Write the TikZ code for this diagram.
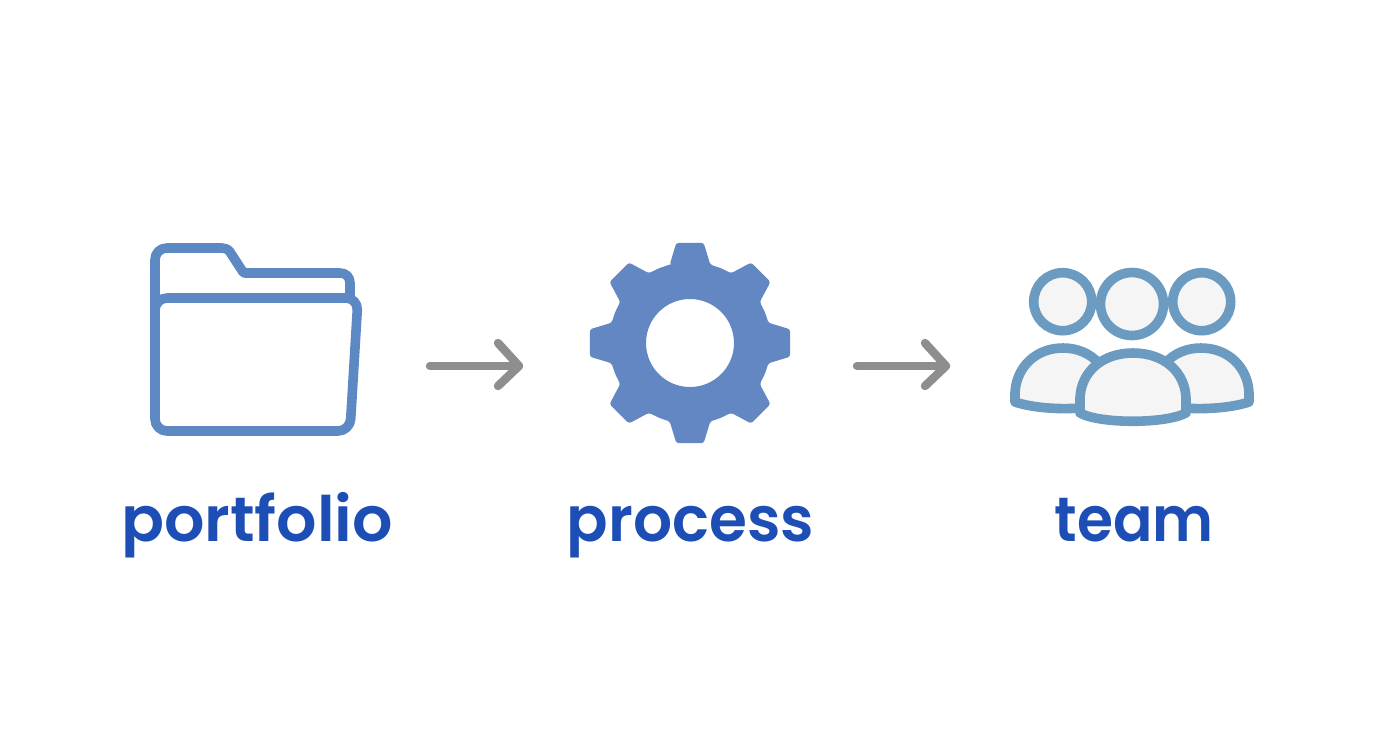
\documentclass[tikz,border=0pt]{standalone}
\usepackage{fontspec}
\usetikzlibrary{calc}
\setmainfont{Poppins}
\newfontfamily\labelfont{Poppins SemiBold}
\definecolor{folderblue}{HTML}{5C88C3}
\definecolor{gearblue}{HTML}{6387C3}
\definecolor{teamblue}{HTML}{6C9BC1}
\definecolor{teamfill}{HTML}{F5F5F6}
\definecolor{labelblue}{HTML}{1C4EB6}
\definecolor{arrowgray}{HTML}{8E8E8E}
\tikzset{
  foldline/.style={draw=folderblue,line width=4.8pt,line join=round},
  teamline/.style={draw=teamblue,line width=4.8pt,fill=teamfill,line join=round},
  flowarrow/.style={draw=arrowgray,line width=4.2pt,line cap=round,line join=round},
  caption/.style={text=labelblue,font=\labelfont\fontsize{31.3}{36}\selectfont,anchor=base,inner sep=0pt}
}
\begin{document}
\begin{tikzpicture}[x=0.5pt,y=-0.5pt]
\useasboundingbox (0,0) rectangle (1392,752);
\fill[white] (0,0) rectangle (1392,752);
% folder
\draw[foldline] (155,310) -- (155,260) .. controls (155,253) and (160,248) .. (167,248) -- (222,248) .. controls (225,248) and (228,249) .. (230,252) -- (243,272) .. controls (243.6,272.8) and (244,273) .. (245,273) -- (340,273) .. controls (346,273) and (350,277) .. (350,283) -- (350,298);
\draw[foldline,rounded corners=6pt] (155,298) -- (358,298) -- (350,431) -- (155,431) -- cycle;
% gear
\coordinate (gc) at (690,343);
\fill[gearblue,even odd rule,rounded corners=1.2pt]
  ($(gc)+(-104:81)$)
  \foreach \a in {-90,-45,0,45,90,135,180,225}{
    -- ($(gc)+(\a-14.5:81)$) -- ($(gc)+(\a-7.8:101)$) -- ($(gc)+(\a+7.8:101)$) -- ($(gc)+(\a+14.5:81)$) -- ($(gc)+(\a+22.5:81)$)
  } -- cycle
  (gc) circle[radius=44];
% team
\node[circle,teamline,minimum size=29pt,inner sep=0pt] (headl) at (1062.7,301.7) {};
\node[circle,teamline,minimum size=29pt,inner sep=0pt] (headr) at (1201.7,301.7) {};
\node[circle,teamline,minimum size=31.5pt,inner sep=0pt] (headm) at (1132,304) {};
\draw[teamline] (1015,402) -- (1015,393) .. controls (1016,368) and (1035,348) .. (1063,348) .. controls (1092,348) and (1112,370) .. (1112,400) .. controls (1100,410) and (1045,412) .. cycle;
\draw[teamline] (1249,402) -- (1249,393) .. controls (1248,368) and (1229,348) .. (1201,348) .. controls (1172,348) and (1152,370) .. (1152,400) .. controls (1164,410) and (1219,412) .. cycle;
\draw[teamline] (1080,413) -- (1080,398) .. controls (1081,372) and (1102,353) .. (1133,353) .. controls (1164,353) and (1185,372) .. (1186,398) -- (1186,413) .. controls (1165,424) and (1100,424) .. cycle;
% arrows
\coordinate (a1s) at (430,366);
\coordinate (a1e) at (519,366);
\coordinate (a1t) at (498,343);
\coordinate (a1b) at (498,386);
\draw[flowarrow] (a1s) -- (a1e);
\draw[flowarrow] (a1t) -- (a1e) -- (a1b);
\coordinate (a2s) at (857,366);
\coordinate (a2e) at (946,366);
\coordinate (a2t) at (925,343);
\coordinate (a2b) at (925,386);
\draw[flowarrow] (a2s) -- (a2e);
\draw[flowarrow] (a2t) -- (a2e) -- (a2b);
% labels
\node[caption] (t1) at (257,541) {\scalebox{1.013}[1]{portfolio}};
\node[caption] (t2) at (690.5,541) {\scalebox{0.98}[1]{process}};
\node[caption] (t3) at (1134,541) {\scalebox{0.93}[1]{team}};
\end{tikzpicture}
\end{document}
